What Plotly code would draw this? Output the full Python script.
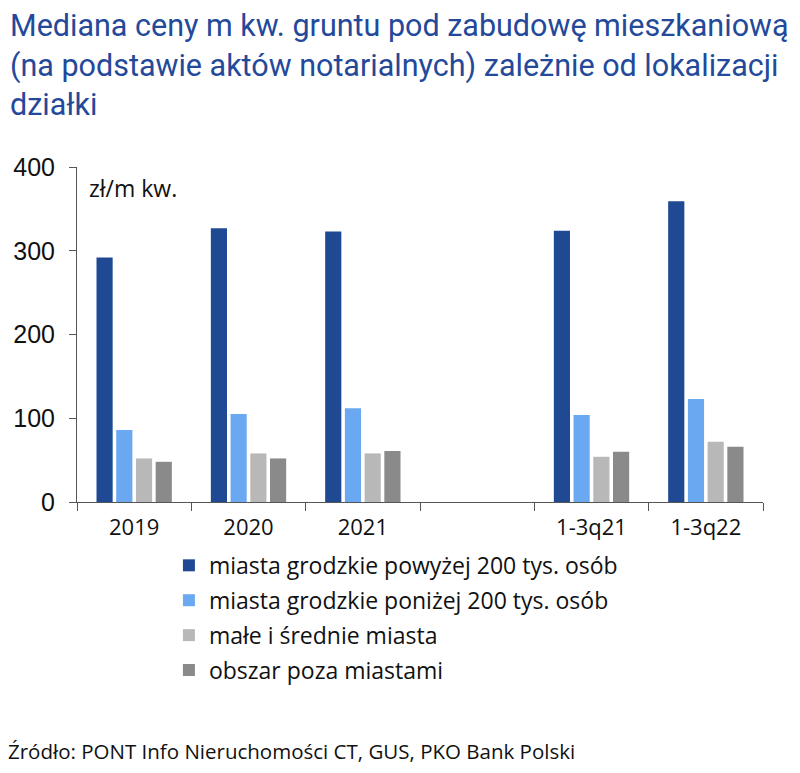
import plotly.graph_objects as go

categories = ["2019", "2020", "2021", " ", "1-3q21", "1-3q22"]
series_names = [
    "miasta grodzkie powyżej 200 tys. osób",
    "miasta grodzkie poniżej 200 tys. osób",
    "małe i średnie miasta",
    "obszar poza miastami",
]
big_cities = [292, 327, 323, None, 324, 359]
mid_cities = [86, 105, 112, None, 104, 123]
small_cities = [52, 58, 58, None, 54, 72]
rural = [48, 52, 61, None, 60, 66]
colors = ["#1F4A93", "#6AA8F2", "#B8B8B8", "#8A8A8A"]

title_text = ("Mediana ceny m kw. gruntu pod zabudowę mieszkaniową<br>"
              "(na podstawie aktów notarialnych) zależnie od lokalizacji<br>działki")
unit_text = "zł/m kw."
source_text = "Źródło: PONT Info Nieruchomości CT, GUS, PKO Bank Polski"

TFONT = "Roboto"
FONT = "Open Sans"

fig = go.Figure()
for i, (name, vals) in enumerate(zip(series_names, [big_cities, mid_cities, small_cities, rural])):
    fig.add_trace(go.Bar(
        x=categories, y=vals, name=name,
        marker=dict(color=colors[i], line=dict(width=0)),
        legendgroup=str(i),
    ))

PW, PH = 686, 335

fig.update_layout(
    width=800, height=773,
    margin=dict(l=77, r=37, t=167, b=271),
    paper_bgcolor="white", plot_bgcolor="white",
    barmode="group", bargap=0.31, bargroupgap=0.18,
    font=dict(family=FONT, color="#111111"),
    showlegend=True,
    legend=dict(
        x=0.134, y=-0.125, xref="paper", yref="paper",
        xanchor="left", yanchor="top",
        font=dict(family=FONT, size=23, color="#111111"),
        traceorder="grouped", tracegroupgap=2, itemwidth=30,
        bgcolor="rgba(0,0,0,0)",
    ),
    xaxis=dict(
        type="category",
        showline=True, linecolor="#555555", linewidth=1,
        ticks="outside", tickson="boundaries", ticklen=8, tickcolor="#555555",
        tickfont=dict(family=FONT, size=22, color="#111111"),
        ticklabelstandoff=6,
        showgrid=False,
    ),
    yaxis=dict(
        range=[0, 400], tickvals=[0, 100, 200, 300, 400],
        showline=True, linecolor="#555555", linewidth=1,
        ticks="outside", ticklen=7, tickcolor="#555555",
        tickfont=dict(family="Liberation Sans", size=25, color="#111111"),
        ticklabelstandoff=9,
        showgrid=False, zeroline=False,
    ),
)

fig.add_annotation(
    text=title_text, xref="paper", yref="paper",
    x=-69/PW, y=1 + (167 - 6)/PH, xanchor="left", yanchor="top", align="left",
    showarrow=False, font=dict(family=TFONT, size=30.5, color="#24499A"),
)
fig.add_annotation(
    text=unit_text, xref="paper", yref="paper",
    x=10/PW, y=1 - 3/PH, xanchor="left", yanchor="top",
    showarrow=False, font=dict(family=FONT, size=23, color="#111111"),
)
fig.add_annotation(
    text=source_text, xref="paper", yref="paper",
    x=-71/PW, y=-(735 - 502)/PH, xanchor="left", yanchor="top",
    showarrow=False, font=dict(family=FONT, size=20.5, color="#111111"),
)

fig.write_html("out.html")
